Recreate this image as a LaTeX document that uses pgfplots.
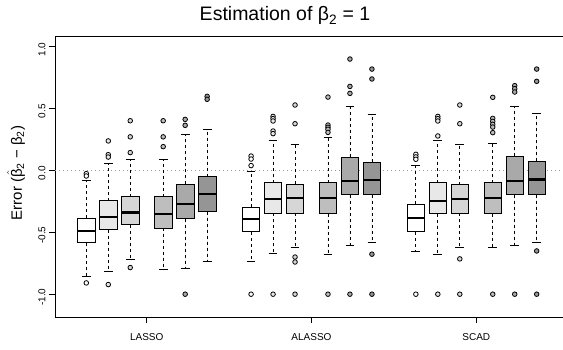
\documentclass[border=0pt]{standalone}
\usepackage{pgfplots}
\pgfplotsset{compat=1.18}
\usepgfplotslibrary{statistics}
\usepackage{fontspec}
\setmainfont{Liberation Sans}
\definecolor{c1}{HTML}{FFFFFF}
\definecolor{c2}{HTML}{E8E8E8}
\definecolor{c3}{HTML}{D6D6D6}
\definecolor{c4}{HTML}{BEBEBE}
\definecolor{c5}{HTML}{A9A9A9}
\definecolor{c6}{HTML}{959595}
% #1 position, #2 colour, #3 lower whisker, #4 Q1, #5 median, #6 Q3, #7 upper whisker, #8 outliers
\newcommand{\bx}[8]{%
  \addplot[boxplot prepared={draw position=#1, lower whisker=#3, lower quartile=#4,
      median=#5, upper quartile=#6, upper whisker=#7},
    fill=#2, draw=black, line width=0.8pt, mark=*, mark size=2.3pt,
    mark options={fill=#2, draw=black, line width=0.8pt, solid}] coordinates {#8};
}
\begin{document}
\begin{tikzpicture}
\begin{axis}[
  at={(0pt,0pt)}, anchor=south west,
  scale only axis, width=515pt, height=281pt,
  xmin=-0.425, xmax=23.016, ymin=-1.184, ymax=1.084,
  axis line style={line width=0.8pt},
  tick pos=left, tick align=outside,
  major tick length=6pt,
  tick style={line width=0.8pt, black},
  xtick={3.75,11.25,18.75}, xticklabels={LASSO,ALASSO,SCAD},
  ytick={-1,-0.5,0,0.5,1}, yticklabels={-1.0,-0.5,0.0,0.5,1.0},
  xticklabel style={font=\fontsize{10}{12}\selectfont, yshift=-7pt},
  yticklabel style={rotate=90, anchor=south, xshift=-3pt, font=\fontsize{10}{12}\selectfont},
  boxplot/draw direction=y,
  boxplot/box extend=0.8, boxplot/whisker extend=0.4,
  boxplot/every median/.style={line width=2.2pt},
  boxplot/draw/lower whisker/.code={%
    \draw[line width=0.8pt, dash pattern=on 3pt off 3pt]
      (boxplot cs:\pgfplotsboxplotvalue{lower quartile}) -- (boxplot cs:\pgfplotsboxplotvalue{lower whisker});
    \draw[line width=0.8pt, solid]
      (boxplot whisker cs:\pgfplotsboxplotvalue{lower whisker},0) -- (boxplot whisker cs:\pgfplotsboxplotvalue{lower whisker},1);
  },
  boxplot/draw/upper whisker/.code={%
    \draw[line width=0.8pt, dash pattern=on 3pt off 3pt]
      (boxplot cs:\pgfplotsboxplotvalue{upper quartile}) -- (boxplot cs:\pgfplotsboxplotvalue{upper whisker});
    \draw[line width=0.8pt, solid]
      (boxplot whisker cs:\pgfplotsboxplotvalue{upper whisker},0) -- (boxplot whisker cs:\pgfplotsboxplotvalue{upper whisker},1);
  },
  clip=false,
]
\addplot[gray!80, line width=0.8pt, dash pattern=on 1pt off 3pt] coordinates {(-0.425,0) (23.016,0)};
% LASSO
\bx{1}{c1}{-0.855}{-0.583}{-0.492}{-0.385}{-0.081}{(0,-0.027)(0,-0.046)(0,-0.909)}
\bx{2}{c2}{-0.815}{-0.478}{-0.376}{-0.245}{0.054}{(0,0.237)(0,0.126)(0,0.107)(0,-0.922)}
\bx{3}{c3}{-0.720}{-0.438}{-0.341}{-0.212}{0.086}{(0,0.40)(0,0.27)(0,0.143)(0,-0.785)}
\bx{4.5}{c4}{-0.798}{-0.465}{-0.352}{-0.212}{0.089}{(0,0.40)(0,0.27)(0,0.191)}
\bx{5.5}{c5}{-0.788}{-0.390}{-0.274}{-0.110}{0.288}{(0,0.411)(0,0.363)(0,-1.0)}
\bx{6.5}{c6}{-0.739}{-0.333}{-0.191}{-0.051}{0.333}{(0,0.597)(0,0.573)}
% ALASSO
\bx{8.5}{c1}{-0.737}{-0.497}{-0.392}{-0.296}{-0.008}{(0,0.115)(0,0.091)(0,0.038)(0,-1.0)}
\bx{9.5}{c2}{-0.669}{-0.347}{-0.234}{-0.099}{0.242}{(0,0.435)(0,0.417)(0,0.398)(0,0.317)(0,0.296)(0,-1.0)}
\bx{10.5}{c3}{-0.621}{-0.347}{-0.223}{-0.110}{0.207}{(0,0.527)(0,0.376)(0,-0.70)(0,-0.74)(0,-1.0)}
\bx{12}{c4}{-0.677}{-0.349}{-0.223}{-0.099}{0.263}{(0,0.591)(0,0.365)(0,0.347)(0,0.331)(0,0.306)(0,-1.0)}
\bx{13}{c5}{-0.610}{-0.196}{-0.089}{0.108}{0.513}{(0,0.898)(0,0.677)(0,0.621)(0,-1.0)}
\bx{14}{c6}{-0.581}{-0.196}{-0.081}{0.065}{0.452}{(0,0.817)(0,0.737)(0,-0.677)(0,-1.0)}
% SCAD
\bx{16}{c1}{-0.656}{-0.497}{-0.385}{-0.274}{0.043}{(0,0.129)(0,0.108)(0,0.089)(0,-1.0)}
\bx{17}{c2}{-0.675}{-0.349}{-0.245}{-0.099}{0.239}{(0,0.435)(0,0.417)(0,0.398)(0,0.277)(0,-1.0)}
\bx{18}{c3}{-0.621}{-0.347}{-0.231}{-0.116}{0.207}{(0,0.527)(0,0.376)(0,-0.715)(0,-1.0)}
\bx{19.5}{c4}{-0.621}{-0.349}{-0.223}{-0.099}{0.218}{(0,0.589)(0,0.419)(0,0.395)(0,0.371)(0,0.349)(0,0.304)(0,-1.0)}
\bx{20.5}{c5}{-0.610}{-0.196}{-0.086}{0.115}{0.513}{(0,0.683)(0,0.659)(0,0.632)(0,-1.0)}
\bx{21.5}{c6}{-0.581}{-0.196}{-0.075}{0.073}{0.460}{(0,0.817)(0,0.718)(0,-0.651)(0,-1.0)}
\end{axis}
\node[anchor=base, font=\fontsize{19.5}{22}\selectfont] at (230pt,296pt) {Estimation of β\textsubscript{2} = 1};
\node[rotate=90, font=\fontsize{15}{17}\selectfont] at (-39pt,144pt) {Error (\(\hat{\mbox{β}}\)\textsubscript{2} − β\textsubscript{2})};
\pgfresetboundingbox
\useasboundingbox (-55pt,-33pt) rectangle (508pt,317pt);
\end{tikzpicture}
\end{document}
